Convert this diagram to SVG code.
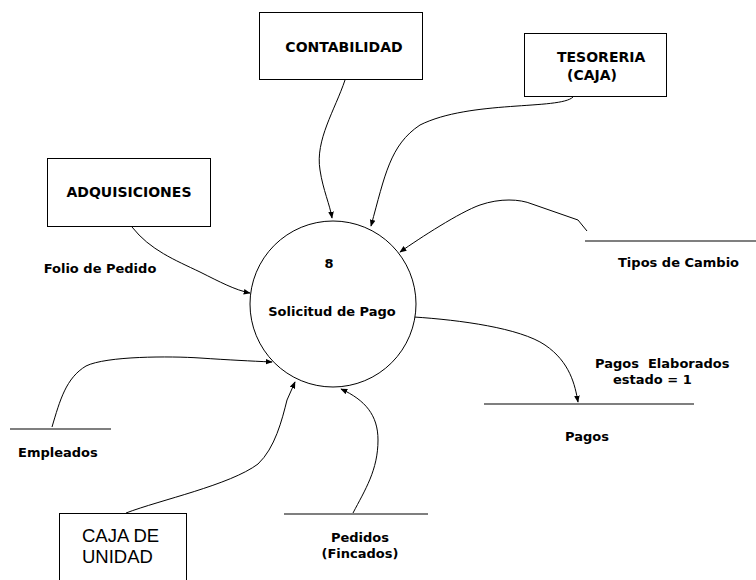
<svg xmlns="http://www.w3.org/2000/svg" width="756" height="580" viewBox="0 0 756 580">
  <style>
    .box { fill: #ffffff; stroke: #000000; stroke-width: 1; }
    .proc { fill: #ffffff; stroke: #000000; stroke-width: 1; }
    .store { stroke: #000000; stroke-width: 1.2; fill: none; }
    .flow { fill: none; stroke: #000000; stroke-width: 1; marker-end: url(#arrow); }
    .lbl { font-family: "DejaVu Sans", "Liberation Sans", sans-serif; font-weight: bold; font-size: 13px; fill: #000000; white-space: pre; }
    .ent { font-family: "DejaVu Sans", "Liberation Sans", sans-serif; font-weight: bold; font-size: 14px; fill: #000000; }
    .reg { font-family: "Liberation Sans", Arial, sans-serif; font-size: 18.5px; fill: #000000; }
  </style>
  <defs>
    <marker id="arrow" viewBox="0 0 10 10" refX="9" refY="5" markerWidth="7" markerHeight="7" orient="auto" markerUnits="userSpaceOnUse">
      <path d="M0,1 L10,5 L0,9 Z" fill="#000000"/>
    </marker>
  </defs>
  <rect width="756" height="580" fill="#ffffff"/>

  <!-- data flows -->
  <g id="connectors">
    <path class="flow" d="M345,80 C335,110 315,140 320,170 C323,190 330,205 332,218"/>
    <path class="flow" d="M573,97 C560,110 470,100 420,125 C390,145 385,175 371,226"/>
    <path class="flow" d="M587,231 L578,220 L532,204 C520,199 500,198 480,205 C460,212 420,238 400,252"/>
    <path class="flow" d="M132,227 C150,250 175,260 200,272 C220,282 235,290 250,293"/>
    <path class="flow" d="M52,427 C60,400 66,378 86,366 C106,356 170,356 200,358 C230,360 250,361 272,362"/>
    <path class="flow" d="M126,513 C160,500 230,485 258,464 C275,448 282,420 287,400 L295,382"/>
    <path class="flow" d="M353,513 C365,490 378,470 378,440 C378,415 365,400 341,389"/>
    <path class="flow" d="M414,317 C460,320 520,328 545,345 C570,362 575,385 578,402"/>
  </g>

  <!-- process 8 -->
  <g id="proc-8">
    <circle class="proc" cx="333" cy="304" r="83"/>
    <text class="lbl" x="329" y="268" text-anchor="middle" font-size="14">8</text>
    <text class="lbl" x="332" y="316" text-anchor="middle">Solicitud de Pago</text>
  </g>

  <!-- external entities -->
  <g id="ent-contabilidad">
    <rect class="box" x="259.5" y="12.5" width="163" height="67"/>
    <text class="ent" x="344" y="52" text-anchor="middle">CONTABILIDAD</text>
  </g>
  <g id="ent-tesoreria">
    <rect class="box" x="524.5" y="33.5" width="142" height="63"/>
    <text class="ent" x="557" y="62">TESORERIA</text>
    <text class="ent" x="567" y="80" font-size="13">(CAJA)</text>
  </g>
  <g id="ent-adquisiciones">
    <rect class="box" x="47.5" y="158.5" width="163" height="68"/>
    <text class="ent" x="129" y="197" text-anchor="middle">ADQUISICIONES</text>
  </g>
  <g id="ent-caja-unidad">
    <rect class="box" x="59.5" y="513.5" width="127" height="80"/>
    <text class="reg" x="82" y="542">CAJA DE</text>
    <text class="reg" x="82" y="563">UNIDAD</text>
  </g>

  <!-- data stores -->
  <g id="store-tipos">
    <line class="store" x1="585" y1="241" x2="756" y2="241"/>
    <text class="lbl" x="618" y="267" font-size="14">Tipos de Cambio</text>
  </g>
  <g id="store-empleados">
    <line class="store" x1="10" y1="429" x2="111" y2="429"/>
    <text class="lbl" x="18" y="457">Empleados</text>
  </g>
  <g id="store-pedidos">
    <line class="store" x1="284" y1="514" x2="428" y2="514"/>
    <text class="lbl" x="360" y="542" text-anchor="middle">Pedidos</text>
    <text class="lbl" x="360" y="558" text-anchor="middle">(Fincados)</text>
  </g>
  <g id="store-pagos">
    <line class="store" x1="484" y1="404" x2="694" y2="404"/>
    <text class="lbl" x="587" y="441" text-anchor="middle">Pagos</text>
  </g>

  <!-- flow labels -->
  <g id="flow-labels">
    <text class="lbl" x="100" y="273" text-anchor="middle">Folio de Pedido</text>
    <text class="lbl" x="595" y="368">Pagos  Elaborados</text>
    <text class="lbl" x="613" y="384">estado = 1</text>
  </g>
</svg>
